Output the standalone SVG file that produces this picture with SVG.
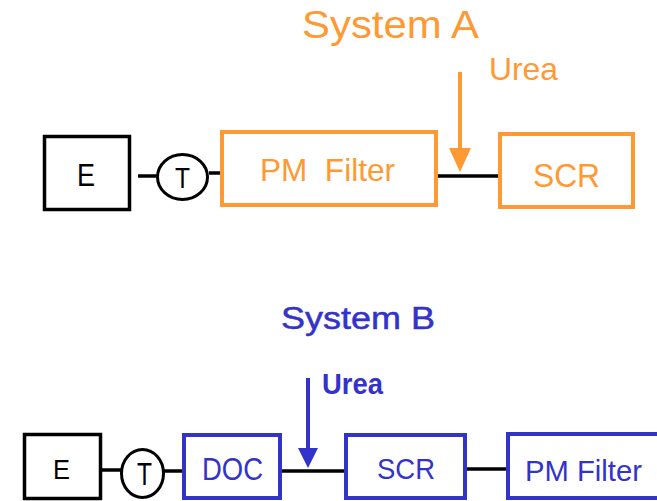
<svg xmlns="http://www.w3.org/2000/svg" width="657" height="501" viewBox="0 0 657 501">
<style>
text { font-family: "Liberation Sans", Arial, sans-serif; }
.blk { fill: #fff; stroke: #000; stroke-width: 3.5; }
.org { fill: #fff; stroke: #FF9933; stroke-width: 4; }
.blu { fill: #fff; stroke: #3333CC; stroke-width: 4; }
.circ { fill: #fff; stroke: #000; stroke-width: 3; }
.wire { stroke: #000; stroke-width: 3.5; fill: none; }
.tk { fill: #000; }
.to { fill: #FF9933; }
.tb { fill: #3333CC; }
</style>
<rect width="657" height="501" fill="#fff"/>

<g id="connectors">
  <line class="wire" x1="138" y1="176" x2="157" y2="176"/>
  <line class="wire" x1="209" y1="173" x2="222" y2="173"/>
  <line class="wire" x1="436" y1="176" x2="500" y2="176" stroke-width="4"/>
  <line x1="460" y1="72" x2="460" y2="150" stroke="#FF9933" stroke-width="4"/>
  <polygon points="449,148 471,148 460,172" fill="#FF9933"/>

  <line class="wire" x1="101" y1="470" x2="121" y2="470"/>
  <line class="wire" x1="164" y1="471" x2="184" y2="471"/>
  <line class="wire" x1="280" y1="471" x2="346" y2="471" stroke-width="4"/>
  <line class="wire" x1="465" y1="469" x2="508" y2="469" stroke-width="5"/>
  <line x1="308" y1="378" x2="308" y2="450" stroke="#3333CC" stroke-width="4"/>
  <polygon points="298,448 318,448 308,468" fill="#3333CC"/>
</g>

<g id="titleA"><text x="390.5" y="38" font-size="39" text-anchor="middle" class="to" textLength="177" lengthAdjust="spacingAndGlyphs">System A</text></g>
<g id="ureaA"><text x="489" y="80" font-size="32" class="to" textLength="69" lengthAdjust="spacingAndGlyphs">Urea</text></g>

<g id="engineA">
  <rect class="blk" x="44.5" y="136.5" width="85" height="73"/>
  <text x="86" y="186" font-size="32" text-anchor="middle" class="tk" textLength="18" lengthAdjust="spacingAndGlyphs">E</text>
</g>
<g id="turboA">
  <ellipse class="circ" cx="182.5" cy="177" rx="25" ry="22.5"/>
  <text x="182.5" y="188" font-size="29" text-anchor="middle" class="tk" textLength="15" lengthAdjust="spacingAndGlyphs">T</text>
</g>
<g id="pmA">
  <rect class="org" x="222" y="132" width="214" height="73"/>
  <text x="260" y="181" font-size="32" class="to" xml:space="preserve" textLength="135" lengthAdjust="spacingAndGlyphs">PM  Filter</text>
</g>
<g id="scrA">
  <rect class="org" x="500" y="134" width="133" height="73"/>
  <text x="533" y="187" font-size="34" class="to" textLength="67" lengthAdjust="spacingAndGlyphs">SCR</text>
</g>

<g id="titleB"><text x="281" y="329" font-size="31" class="tb" stroke="#3333CC" stroke-width="0.5" textLength="154" lengthAdjust="spacingAndGlyphs">System B</text></g>
<g id="ureaB"><text x="322" y="394" font-size="29" font-weight="bold" class="tb" textLength="61" lengthAdjust="spacingAndGlyphs">Urea</text></g>

<g id="engineB">
  <rect class="blk" x="24.5" y="434.5" width="76" height="64"/>
  <text x="61.5" y="479" font-size="28" text-anchor="middle" class="tk" textLength="17" lengthAdjust="spacingAndGlyphs">E</text>
</g>
<g id="turboB">
  <ellipse class="circ" cx="142.5" cy="473.5" rx="21" ry="24"/>
  <text x="144.5" y="485" font-size="32" text-anchor="middle" class="tk" textLength="15" lengthAdjust="spacingAndGlyphs">T</text>
</g>
<g id="docB">
  <rect class="blu" x="184" y="435" width="96" height="63"/>
  <text x="202" y="480" font-size="30.5" class="tb" textLength="61" lengthAdjust="spacingAndGlyphs">DOC</text>
</g>
<g id="scrB">
  <rect class="blu" x="346" y="435" width="119" height="63"/>
  <text x="377" y="479" font-size="29.5" class="tb" textLength="58" lengthAdjust="spacingAndGlyphs">SCR</text>
</g>
<g id="pmB">
  <rect class="blu" x="508" y="434" width="160" height="64"/>
  <text x="525" y="481" font-size="29.5" class="tb" textLength="117" lengthAdjust="spacingAndGlyphs">PM Filter</text>
</g>
</svg>
